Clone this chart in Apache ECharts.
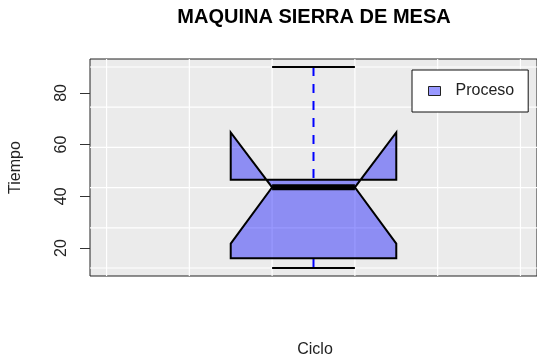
<!DOCTYPE html>
<html>
<head>
<meta charset="utf-8">
<script src="https://cdn.jsdelivr.net/npm/echarts@6/dist/echarts.min.js"></script>
<style>
html,body{margin:0;padding:0;background:#fff;}
#chart{width:537px;height:362px;}
</style>
</head>
<body>
<div id="chart"></div>
<script>
// ---- data ----
const titleText = 'MAQUINA SIERRA DE MESA';
const yTitle = 'Tiempo';
const xTitle = 'Ciclo';
const seriesName = 'Proceso';
const boxX = [1];
const whiskerLow = [12.3];
const q1 = [16.1];
const notchLow = [21.7];
const median = [43.5];
const notchHigh = [64.7];
const q3 = [46.4];
const whiskerHigh = [90];
const yTicks = [20, 40, 60, 80];
const gridYValues = [12.3, 27.8, 43.4, 58.9, 74.5, 90.0];
const gridXValues = [0.5, 0.7, 0.9, 1.1, 1.3, 1.5];

const boxData = boxX.map((x, i) => [x, whiskerLow[i], q1[i], notchLow[i], median[i], notchHigh[i], q3[i], whiskerHigh[i]]);

const FONT = '"Liberation Sans", Arial, Helvetica, sans-serif';
const chart = echarts.init(document.getElementById('chart'), null, {renderer: 'canvas'});

const option = {
  animation: false,
  backgroundColor: '#ffffff',
  grid: {
    left: 90, top: 59, width: 451, height: 217,
    show: true, backgroundColor: '#EBEBEB', borderColor: '#222', borderWidth: 1
  },
  xAxis: {
    type: 'value', min: 0.46, max: 1.54,
    axisLine: {show: false}, axisTick: {show: false}, axisLabel: {show: false}, splitLine: {show: false}
  },
  yAxis: {
    type: 'value', min: 9.2, max: 93.1,
    axisLine: {show: false},
    axisTick: {show: true, length: 10, customValues: yTicks, lineStyle: {color: '#333', width: 1}},
    axisLabel: {show: true, customValues: yTicks, rotate: 90, margin: 20, fontSize: 16, fontFamily: FONT, color: '#222'},
    splitLine: {show: false}
  },
  legend: {
    data: [{name: seriesName, icon: 'rect', itemStyle: {color: 'rgba(0,0,255,0.4)', borderColor: '#222', borderWidth: 1}}],
    left: 412, top: 70,
    padding: [12, 14, 12, 16],
    backgroundColor: '#fff', borderColor: '#111', borderWidth: 1, borderRadius: 0,
    itemWidth: 12, itemHeight: 9,
    textStyle: {fontSize: 16, fontFamily: FONT, color: '#222', padding: [0, 0, 0, 10], lineHeight: 18},
    selectedMode: false
  },
  graphic: [
    {type: 'text', x: 314, y: 17, z: 10, style: {text: titleText, font: 'bold 20px ' + FONT, fill: '#000', textAlign: 'center', textVerticalAlign: 'middle'}},
    {type: 'text', x: 16, y: 167.5, rotation: Math.PI / 2, z: 10, style: {text: yTitle, font: '16px ' + FONT, fill: '#222', textAlign: 'center', textVerticalAlign: 'middle'}},
    {type: 'text', x: 315, y: 350, z: 10, style: {text: xTitle, font: '16px ' + FONT, fill: '#222', textAlign: 'center', textVerticalAlign: 'middle'}}
  ],
  series: [
    {
      name: 'gridH', type: 'custom', silent: true, z: 1, clip: true,
      data: gridYValues.map(v => [1, v]),
      encode: {x: 0, y: 1},
      renderItem: function (params, api) {
        const cs = params.coordSys;
        const y = api.coord([1, api.value(1)])[1];
        return {type: 'line', shape: {x1: cs.x, y1: y, x2: cs.x + cs.width, y2: y}, style: {stroke: '#ffffff', lineWidth: 1.2}};
      }
    },
    {
      name: 'gridV', type: 'custom', silent: true, z: 1, clip: true,
      data: gridXValues.map(v => [v, 50]),
      encode: {x: 0, y: 1},
      renderItem: function (params, api) {
        const cs = params.coordSys;
        const x = api.coord([api.value(0), 50])[0];
        return {type: 'line', shape: {x1: x, y1: cs.y, x2: x, y2: cs.y + cs.height}, style: {stroke: '#ffffff', lineWidth: 1.2}};
      }
    },
    {
      name: seriesName, type: 'custom', z: 5,
      itemStyle: {color: 'rgba(0,0,255,0.4)'},
      data: boxData,
      encode: {x: 0, y: [1, 2, 3, 4, 5, 6, 7]},
      renderItem: function (params, api) {
        const x = api.value(0);
        const wlo = api.value(1), bq1 = api.value(2), nlo = api.value(3), med = api.value(4);
        const nhi = api.value(5), bq3 = api.value(6), whi = api.value(7);
        const hw = 0.2, nw = 0.1;
        const c = (a, b) => api.coord([a, b]);
        const pts = [
          c(x - hw, bq1), c(x - hw, nlo), c(x - nw, med), c(x - hw, nhi), c(x - hw, bq3),
          c(x + hw, bq3), c(x + hw, nhi), c(x + nw, med), c(x + hw, nlo), c(x + hw, bq1)
        ];
        const line = (p1, p2, style) => ({type: 'line', shape: {x1: p1[0], y1: p1[1], x2: p2[0], y2: p2[1]}, style: style});
        const dash = {stroke: '#0000FF', lineWidth: 2, lineDash: [9, 8]};
        const cap = {stroke: '#000', lineWidth: 2};
        return {
          type: 'group',
          children: [
            line(c(x, whi), c(x, bq3), dash),
            line(c(x, bq1), c(x, wlo), dash),
            {type: 'polygon', shape: {points: pts}, style: {fill: 'rgba(0,0,255,0.4)', stroke: '#000', lineWidth: 2, lineJoin: 'miter'}},
            line(c(x - nw, med), c(x + nw, med), {stroke: '#000', lineWidth: 6, lineCap: 'butt'}),
            line(c(x - nw, whi), c(x + nw, whi), cap),
            line(c(x - nw, wlo), c(x + nw, wlo), cap)
          ]
        };
      }
    }
  ]
};
chart.setOption(option);
</script>
</body>
</html>
